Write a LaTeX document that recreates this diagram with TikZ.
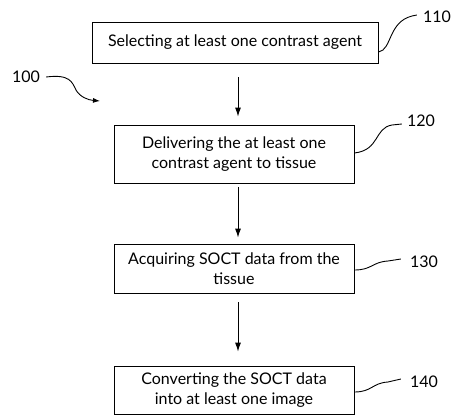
\documentclass[tikz,border=0pt]{standalone}
\usepackage{fontspec}
\setmainfont{Lato}
\usetikzlibrary{arrows.meta}
\tikzset{
  stepbox/.style={draw, line width=0.9pt, inner sep=0pt, align=center, font=\fontsize{16}{20.5}\selectfont},
  flow/.style={line width=0.9pt, -{Latex[length=9pt,width=6pt]}},
  leader/.style={line width=0.9pt},
  reflabel/.style={font=\fontsize{16}{18}\selectfont, inner sep=0pt}
}
\begin{document}
\begin{tikzpicture}[x=1pt,y=-1pt]
\useasboundingbox (0,0) rectangle (454,415);
\node[stepbox, minimum width=286pt, minimum height=41pt] (b1) at (235,42.5) {Selecting at least one contrast agent};
\node[stepbox, minimum width=240pt, minimum height=58pt] (b2) at (234,154) {Delivering the at least one\\contrast agent to tissue};
\node[stepbox, minimum width=240pt, minimum height=49pt] (b3) at (234,268.5) {Acquiring SOCT data from the\\tissue};
\node[stepbox, minimum width=240pt, minimum height=48pt] (b4) at (234,390) {Converting the SOCT data\\into at least one image};

\draw[flow, shorten <=14pt, shorten >=8pt] (b1.south -| 238,0) -- (b2.north -| 238,0);
\draw[flow, shorten <=4pt, shorten >=6pt] (b2.south -| 238,0) -- (b3.north -| 238,0);
\draw[flow, shorten <=9pt, shorten >=14pt] (b3.south -| 238,0) -- (b4.north -| 238,0);

\node[reflabel] (l110) at (437,17) {110};
\node[reflabel] (l120) at (421,121) {120};
\node[reflabel] (l130) at (424,262) {130};
\node[reflabel] (l140) at (424,382) {140};
\node[reflabel] (l100) at (26,77) {100};

\coordinate (e1) at (b1.east |- 0,52);
\coordinate (e2) at (b2.east |- 0,153);
\coordinate (e3) at (b3.east |- 0,270);
\coordinate (e4) at (b4.east |- 0,392);
\coordinate (t100) at (100,101);

\draw[leader] (e1) .. controls (392,50) and (388,22) .. (412,16) -- ([xshift=-6pt]l110.west |- 0,15);
\draw[leader] (e2) .. controls (380,150) and (374,128) .. (392,125) -- ([xshift=-5pt]l120.west |- 0,124);
\draw[leader] (e3) .. controls (372,270) and (372,262) .. (388,261) -- ([xshift=-9pt]l130.west |- 0,259);
\draw[leader] (e4) .. controls (372,392) and (372,383) .. (388,382) -- ([xshift=-9pt]l140.west |- 0,379);
\draw[leader, -{Latex[length=7pt,width=5pt]}] ([xshift=6pt]l100.east) .. controls (70,74) and (72,82) .. (76,90) .. controls (80,97) and (88,100) .. (t100);
\end{tikzpicture}
\end{document}
